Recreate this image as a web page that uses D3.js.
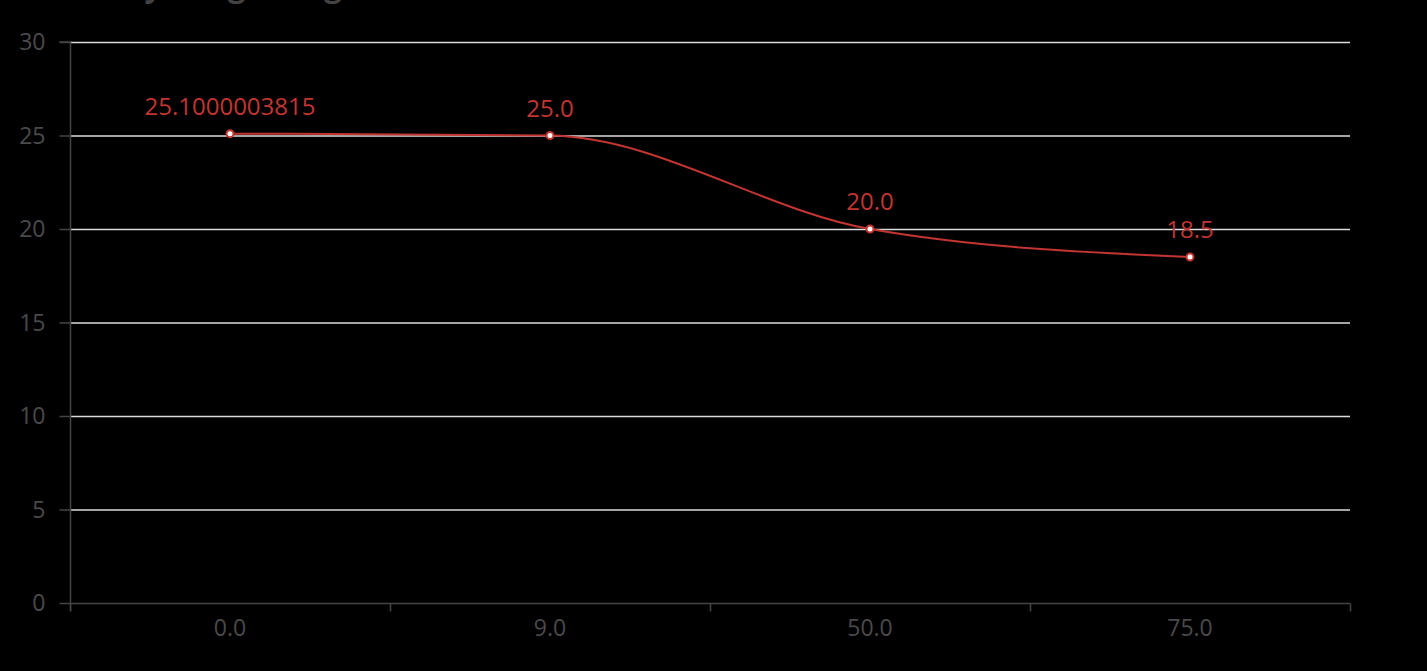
<!DOCTYPE html>
<html><head><meta charset="utf-8">
<script src="https://cdn.jsdelivr.net/npm/d3@7"></script>
<style>html,body{margin:0;padding:0;background:#000;overflow:hidden}</style>
</head><body>
<svg id="c" width="1427" height="671"></svg>
<script>
const titleText = "Daily Weight Log";
const categories = ["0.0", "9.0", "50.0", "75.0"];
const values = [25.1000003815, 25.0, 20.0, 18.5];
const valueLabels = ["25.1000003815", "25.0", "20.0", "18.5"];
const yTicks = [0, 5, 10, 15, 20, 25, 30];

(function () {
const font = "'Open Sans','Noto Sans',sans-serif";
const svg = d3.select("#c");
svg.append("rect").attr("width", 1427).attr("height", 671).attr("fill", "#000");

const gLeft = 70, gRight = 1350, gTop = 42, gBottom = 603;
const x = d3.scaleBand().domain(categories).range([gLeft, gRight]);
const y = d3.scaleLinear().domain([0, 30]).range([gBottom, gTop]);

svg.append("text").attr("x", 84).attr("y", -3).attr("font-family", font)
  .attr("font-weight", "bold").attr("font-size", 31).attr("fill", "#424242").text(titleText);

// grid
svg.append("g").selectAll("line").data(yTicks.filter(d => d > 0)).join("line")
  .attr("x1", gLeft).attr("x2", gRight).attr("y1", d => y(d) + 0.5).attr("y2", d => y(d) + 0.5)
  .attr("stroke", "#dcdcdc").attr("stroke-width", 1.5);

// y axis
const ya = svg.append("g").attr("transform", `translate(${gLeft + 0.5},0)`)
  .call(d3.axisLeft(y).tickValues(yTicks).tickSize(11).tickPadding(14).tickFormat(d3.format("d")));
ya.select(".domain").attr("stroke", "#444").attr("stroke-width", 1.5).attr("d", `M-11,${gTop}H0V${gBottom + 8}`);
ya.selectAll(".tick line").attr("stroke", "#444").attr("stroke-width", 1.5);
ya.selectAll(".tick text").attr("fill", "#4a4a4a").attr("font-size", 23).attr("font-family", font)
  .attr("dy", "0.34em");

// x axis
const xa = svg.append("g").attr("transform", `translate(0,${gBottom + 0.5})`)
  .call(d3.axisBottom(x).tickSize(0).tickPadding(16));
xa.select(".domain").attr("stroke", "#444").attr("stroke-width", 1.5).attr("d", `M${gLeft},0H${gRight}`);
xa.selectAll(".tick text").attr("fill", "#4a4a4a").attr("font-size", 23).attr("font-family", font);
const bounds = categories.map(c => x(c)).concat([gRight]);
xa.append("g").selectAll("line").data(bounds).join("line")
  .attr("x1", d => d + 0.5).attr("x2", d => d + 0.5).attr("y1", 0).attr("y2", 8)
  .attr("stroke", "#444").attr("stroke-width", 1.5);

// line
const pts = categories.map((c, i) => [x(c) + x.bandwidth() / 2, y(values[i])]);
const red = "#c23531";
svg.append("path").attr("d", d3.line().curve(d3.curveMonotoneX)(pts))
  .attr("fill", "none").attr("stroke", red).attr("stroke-width", 2);
svg.append("g").selectAll("circle").data(pts).join("circle")
  .attr("cx", d => d[0]).attr("cy", d => d[1]).attr("r", 3.5)
  .attr("fill", "#fff").attr("stroke", red).attr("stroke-width", 2);
svg.append("g").selectAll("text").data(pts).join("text")
  .attr("x", d => d[0]).attr("y", d => d[1] - 19).attr("text-anchor", "middle")
  .attr("font-family", font).attr("font-size", 24).attr("fill", red)
  .text((d, i) => valueLabels[i]);
})();
</script>
</body></html>
